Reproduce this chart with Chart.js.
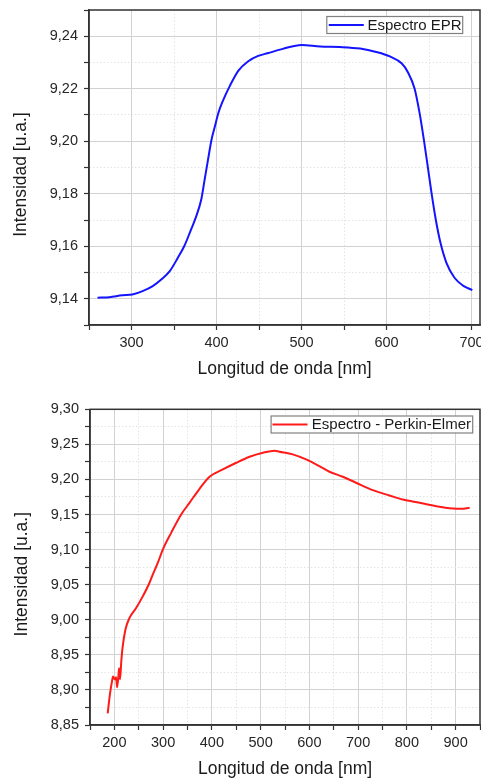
<!DOCTYPE html>
<html><head><meta charset="utf-8">
<script src="https://cdn.jsdelivr.net/npm/chart.js@4.4.1/dist/chart.umd.min.js"></script>
<style>
html,body{margin:0;padding:0;background:#fff;overflow:hidden;width:481px;height:778px}
#c1{position:absolute;left:0;top:0}
#c2{position:absolute;left:0;top:390px}
</style></head><body>
<canvas id="c1" width="481" height="390"></canvas>
<canvas id="c2" width="481" height="388"></canvas>
<script>
// ---------- data ----------
const xTitle = 'Longitud de onda [nm]';
const yTitle = 'Intensidad [u.a.]';

const eprLabel = 'Espectro EPR';
const eprWavelength = [260,274,289,301,313,325,335,345,354.5,362,370,376,382,386,390,394,398,402,407,416,426,437,449,460,478,500,522,545,569,588,604,618,625,633,639,644,648,653,658,663.5,670.5,680,690,701];
const eprIntensity = [9.1404,9.1406,9.1413,9.1416,9.1429,9.1448,9.1473,9.1505,9.1556,9.1600,9.1663,9.1713,9.1777,9.1853,9.1929,9.2004,9.2055,9.2106,9.2150,9.2213,9.2270,9.2304,9.2325,9.2335,9.2352,9.2367,9.2361,9.2359,9.2353,9.2340,9.2323,9.2296,9.2264,9.2201,9.2106,9.2005,9.1916,9.1802,9.1701,9.1613,9.1537,9.1480,9.1450,9.1433];
const eprXTicks = [250,300,350,400,450,500,550,600,650,700];
const eprXLabels = ['','300','','400','','500','','600','','700'];
const eprYTicks = [9.13,9.14,9.15,9.16,9.17,9.18,9.19,9.20,9.21,9.22,9.23,9.24,9.25];
const eprYLabels = ['','9,14','','9,16','','9,18','','9,20','','9,22','','9,24',''];

const peLabel = 'Espectro - Perkin-Elmer';
const peWavelength = [186.3,191.2,194.5,197.3,200.6,203.5,205.5,208.2,209.6,211.6,214.4,217.1,222.6,230.8,244.6,258.2,271.9,278.7,289,299.3,316.5,337,354.1,374.7,395.2,422.6,450,477.4,504.8,528.8,538.4,565.8,593.2,620.5,641.1,668.5,695.8,730.1,764.4,791.7,826,860.3,894.5,911.6,928.8];
const peIntensity = [8.8667,8.8953,8.9096,8.9190,8.9153,8.9181,8.9039,8.9190,8.9310,8.9153,8.9429,8.9619,8.9857,9.0024,9.0167,9.0333,9.0524,9.0643,9.0810,9.1000,9.1239,9.1500,9.1667,9.1867,9.2039,9.2143,9.2238,9.2324,9.2381,9.2410,9.2396,9.2357,9.2286,9.2190,9.2110,9.2039,9.1953,9.1847,9.1771,9.1714,9.1667,9.1619,9.1586,9.1581,9.1596];
const peXTicks = [150,200,250,300,350,400,450,500,550,600,650,700,750,800,850,900,950];
const peXLabels = ['','200','','300','','400','','500','','600','','700','','800','','900',''];
const peYTicks = [8.85,8.875,8.90,8.925,8.95,8.975,9.00,9.025,9.05,9.075,9.10,9.125,9.15,9.175,9.20,9.225,9.25,9.275,9.30];
const peYLabels = ['8,85','','8,90','','8,95','','9,00','','9,05','','9,10','','9,15','','9,20','','9,25','','9,30'];

// ---------- helpers ----------
const FONT = "'Liberation Sans', Arial, sans-serif";
const TICK_FONT = {family: FONT, size: 14.5};

const framePlugin = {
  id: 'frame',
  afterDatasetsDraw(chart) {
    const {ctx, chartArea: a} = chart;
    ctx.save();
    ctx.strokeStyle = '#333';
    ctx.lineWidth = 1.5;
    ctx.strokeRect(a.left, a.top, a.right - a.left, a.bottom - a.top);
    ctx.restore();
  }
};

const legendBoxPlugin = {
  id: 'legendBox',
  afterDraw(chart, args, opts) {
    const {ctx, chartArea: a} = chart;
    const ds = chart.data.datasets[0];
    ctx.save();
    ctx.font = '15px ' + FONT;
    const tw = ctx.measureText(ds.label).width;
    const right = a.right - opts.insetRight;
    const cy = a.top + opts.centerY;
    const w = opts.padLeft + opts.lineLen + opts.gap + tw + opts.padRight;
    const left = right - w;
    const h = 17;
    ctx.fillStyle = '#fff';
    ctx.fillRect(left, cy - h / 2, w, h);
    ctx.strokeStyle = '#808080';
    ctx.lineWidth = 1.2;
    ctx.strokeRect(left, cy - h / 2, w, h);
    ctx.strokeStyle = ds.borderColor;
    ctx.lineWidth = 2;
    ctx.beginPath();
    ctx.moveTo(left + opts.padLeft, cy);
    ctx.lineTo(left + opts.padLeft + opts.lineLen, cy);
    ctx.stroke();
    ctx.fillStyle = '#1a1a1a';
    ctx.textBaseline = 'middle';
    ctx.textAlign = 'left';
    ctx.fillText(ds.label, left + opts.padLeft + opts.lineLen + opts.gap, cy + 0.5);
    ctx.restore();
  }
};

const yTitlePlugin = {
  id: 'yTitle',
  afterDraw(chart, args, opts) {
    const {ctx} = chart;
    ctx.save();
    ctx.translate(opts.x, opts.y);
    ctx.rotate(-Math.PI / 2);
    ctx.font = '17.5px ' + FONT;
    ctx.fillStyle = '#1a1a1a';
    ctx.textAlign = 'center';
    ctx.textBaseline = 'middle';
    ctx.fillText(opts.text, 0, 0);
    ctx.restore();
  }
};

function makeChart(el, cfg) {
  const labelOf = (ticks, labels, v) => {
    const i = ticks.findIndex(t => Math.abs(t - v) < 1e-9);
    return i >= 0 ? labels[i] : '';
  };
  const isMajorX = c => c.tick && labelOf(cfg.xTicks, cfg.xLabels, c.tick.value) !== '';
  const isMajorY = c => c.tick && labelOf(cfg.yTicks, cfg.yLabels, c.tick.value) !== '';
  return new Chart(el, {
    type: 'line',
    data: {
      datasets: [{
        label: cfg.label,
        data: cfg.x.map((v, i) => ({x: v, y: cfg.y[i]})),
        borderColor: cfg.color,
        borderWidth: 2,
        pointRadius: 0,
        fill: false,
        cubicInterpolationMode: 'monotone'
      }]
    },
    options: {
      responsive: false,
      animation: false,
      devicePixelRatio: 1,
      layout: {autoPadding: false, padding: cfg.padding},
      plugins: {
        legend: {display: false},
        tooltip: {enabled: false},
        legendBox: cfg.legend,
        yTitle: {text: yTitle, x: cfg.yTitleX, y: cfg.yTitleY}
      },
      scales: {
        x: {
          type: 'linear',
          min: cfg.xMin, max: cfg.xMax,
          afterBuildTicks: s => { s.ticks = cfg.xTicks.map(v => ({value: v})); },
          afterFit: s => { s.height = cfg.xHeight; s.paddingLeft = 0; s.paddingRight = 0; },
          ticks: {
            autoSkip: false, maxRotation: 0, minRotation: 0, padding: 4,
            color: '#262626', font: TICK_FONT,
            callback: v => labelOf(cfg.xTicks, cfg.xLabels, v)
          },
          grid: {
            color: c => isMajorX(c) ? '#d2d2d2' : '#e4e4e4',
            lineWidth: 1,
            tickColor: '#333',
            tickLength: 5,
            tickWidth: 1.2
          },
          border: {display: true, color: '#333', width: 1.5,
                   dash: c => (c.tick && !isMajorX(c)) ? [1.5, 2] : []},
          title: {display: true, text: xTitle, color: '#1a1a1a',
                  font: {family: FONT, size: 17.5, lineHeight: 1},
                  padding: {top: 0, bottom: cfg.xTitlePad}}
        },
        y: {
          type: 'linear',
          min: cfg.yMin, max: cfg.yMax,
          afterBuildTicks: s => { s.ticks = cfg.yTicks.map(v => ({value: v})); },
          afterFit: s => { s.width = cfg.yWidth; s.paddingTop = 0; s.paddingBottom = 0; },
          ticks: {
            autoSkip: false, padding: 6,
            color: '#262626', font: TICK_FONT,
            callback: v => labelOf(cfg.yTicks, cfg.yLabels, v)
          },
          grid: {
            color: c => isMajorY(c) ? '#d2d2d2' : '#e4e4e4',
            lineWidth: 1,
            tickColor: '#333',
            tickLength: 5,
            tickWidth: 1.2
          },
          border: {display: true, color: '#333', width: 1.5,
                   dash: c => (c.tick && !isMajorY(c)) ? [1.5, 2] : []},
          title: {display: false}
        }
      }
    },
    plugins: [framePlugin, legendBoxPlugin, yTitlePlugin]
  });
}

makeChart(document.getElementById('c1'), {
  label: eprLabel, color: '#1414ff',
  x: eprWavelength, y: eprIntensity,
  xMin: 250, xMax: 710, yMin: 9.13, yMax: 9.25,
  xTicks: eprXTicks, xLabels: eprXLabels, yTicks: eprYTicks, yLabels: eprYLabels,
  padding: {top: 10, right: 1, left: 0, bottom: 0},
  xHeight: 65, yWidth: 89, xTitlePad: 12,
  yTitleX: 21, yTitleY: 174.5,
  legend: {insetRight: 17.3, centerY: 15, padLeft: 2, lineLen: 35, gap: 3.7, padRight: 1}
});

makeChart(document.getElementById('c2'), {
  label: peLabel, color: '#ff1a1a',
  x: peWavelength, y: peIntensity,
  xMin: 150, xMax: 950, yMin: 8.85, yMax: 9.30,
  xTicks: peXTicks, xLabels: peXLabels, yTicks: peYTicks, yLabels: peYLabels,
  padding: {top: 19.3, right: 1, left: 0, bottom: 0},
  xHeight: 53, yWidth: 90, xTitlePad: 0,
  yTitleX: 21.7, yTitleY: 184.2,
  legend: {insetRight: 7.3, centerY: 15.2, padLeft: 1.4, lineLen: 35, gap: 4.3, padRight: 1.7}
});
</script>
</body></html>
